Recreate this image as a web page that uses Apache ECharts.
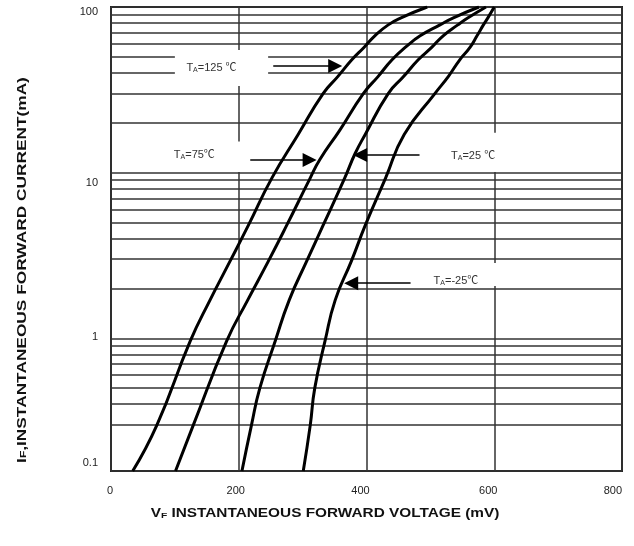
<!DOCTYPE html>
<html>
<head>
<meta charset="utf-8">
<script src="https://cdn.jsdelivr.net/npm/echarts@6/dist/echarts.min.js"></script>
<style>
  html, body { margin: 0; padding: 0; background: #fff; }
  #chart { width: 634px; height: 546px; }
</style>
</head>
<body>
<div id="chart"></div>
<script>
// Forward current (mA, log scale) against forward voltage (mV), one curve per ambient temperature.
const temperatureLabels = ['T{sub|A}=125 ℃', 'T{sub|A}=75℃', 'T{sub|A}=25 ℃', 'T{sub|A}=-25℃'];

// [voltage mV, current mA]
const curve125 = [[34, 0.158], [72, 0.30], [124, 0.96], [155, 1.7], [186, 2.9], [215, 4.8], [252, 9.3], [293, 17], [332, 30], [355, 38], [377, 48], [396, 57], [413, 67], [434, 78], [454, 86], [495, 100]];
const curve75 = [[101, 0.158], [129, 0.30], [181, 0.96], [214, 1.7], [246, 2.9], [275, 4.8], [312, 9.3], [327, 12], [358, 18], [395, 30], [418, 38], [440, 48], [463, 58], [484, 67], [515, 78], [536, 86], [576, 100]];
const curve25 = [[205, 0.158], [220, 0.30], [233, 0.50], [257, 0.96], [279, 1.7], [306, 2.9], [332, 4.8], [366, 9.3], [382, 13], [398, 17], [434, 30], [458, 38], [481, 48], [502, 57], [520, 67], [543, 78], [559, 86], [587, 100]];
const curveMinus25 = [[301, 0.158], [312, 0.30], [319, 0.50], [335, 0.96], [351, 1.7], [376, 2.9], [398, 4.8], [430, 9.3], [459, 17], [507, 30], [528, 38], [546, 48], [562, 57], [573, 67], [583, 78], [590, 86], [600, 100]];

// Axis ranges and tick labels
const voltageRange = [0, 800];
const voltageStep = 200;
const voltageTickLabels = ['0', '200', '400', '600', '800'];
const currentRange = [0.158, 100];
const currentTickLabels = ['0.1', '1', '10', '100'];
// Intermediate horizontal rules inside each decade
const currentGridValues = [0.3, 0.4, 0.5, 0.6, 0.7, 0.8, 0.9, 2, 3, 4, 5, 6, 7, 8, 9, 20, 30, 40, 50, 60, 70, 80, 90];

// Annotation layout: white label panel (two corners), label nudge, arrow from -> to
const annotationLayout = [
  { panel: [[100, 33.4], [246, 55]], nudge: [-10, -1], arrow: [[254, 44.1], [351, 44.1]] },
  { panel: [[77, 10.1], [209, 15.4]], nudge: [-8, -3], arrow: [[218, 11.9], [311, 11.9]] },
  { panel: [[515, 10.1], [625, 17.4]], nudge: [-2, 2], arrow: [[483, 12.8], [390, 12.8]] },
  { panel: [[484, 2.07], [640, 2.85]], nudge: [-14, 5], arrow: [[469, 2.15], [376, 2.15]] }
];

const FONT = "'Liberation Sans', Arial, sans-serif";
const LABEL_FONT = "'Liberation Sans', 'Noto Sans CJK SC', sans-serif";
const RULE = '#333';
const TEXT = '#222';

const curveSeries = [curve125, curve75, curve25, curveMinus25].map((points, i) => ({
  type: 'line',
  name: temperatureLabels[i],
  data: points,
  symbol: 'none',
  smooth: 0.5,
  silent: true,
  z: 5,
  lineStyle: { color: '#000', width: 3 }
}));

// small per-label nudges so tick text sits where the printed scale has it
const tickText = (pad) => ({ fontSize: 11, fontFamily: FONT, color: TEXT, padding: pad });
const yTickRich = {
  t0: tickText([0, 0, 16, 0]),
  t1: tickText([0, 0, 2, 0]),
  t2: tickText([20, 0, 0, 0]),
  t3: tickText([10, 0, 0, 0])
};
const xTickRich = {
  t0: tickText([0, 2, 0, 0]),
  t1: tickText([0, 6, 0, 0]),
  t2: tickText([0, 12, 0, 0]),
  t3: tickText([0, 12, 0, 0]),
  t4: tickText([0, 0, 0, 0])
};

const annotationRich = {
  main: { fontSize: 11, fontFamily: LABEL_FONT, color: '#333', lineHeight: 14, verticalAlign: 'bottom' },
  sub: { fontSize: 7, fontFamily: LABEL_FONT, color: '#333', lineHeight: 14, verticalAlign: 'bottom' }
};

const titleRich = (size) => ({
  b: { fontSize: size, fontWeight: 'bold', fontFamily: FONT, fill: '#111', color: '#111', lineHeight: size + 2, verticalAlign: 'bottom' },
  s: { fontSize: Math.round(size * 0.68), fontWeight: 'bold', fontFamily: FONT, fill: '#111', color: '#111', lineHeight: size + 2, verticalAlign: 'bottom' }
});

const option = {
  animation: false,
  backgroundColor: '#fff',
  grid: {
    left: 111, right: 12, top: 7, bottom: 75,
    show: true, borderColor: '#222', borderWidth: 2, backgroundColor: 'transparent'
  },
  xAxis: {
    type: 'value',
    min: voltageRange[0], max: voltageRange[1], interval: voltageStep,
    axisLine: { show: false },
    axisTick: { show: false },
    splitLine: { show: true, lineStyle: { color: RULE, width: 1.5 } },
    axisLabel: {
      margin: 14, color: TEXT, fontSize: 11, fontFamily: FONT, alignMaxLabel: 'right',
      formatter: (value, index) => '{t' + index + '|' + voltageTickLabels[index] + '}',
      rich: xTickRich
    }
  },
  yAxis: {
    type: 'log', logBase: 10,
    min: currentRange[0], max: currentRange[1],
    axisLine: { show: false },
    axisTick: { show: false },
    splitLine: { show: true, lineStyle: { color: RULE, width: 1.5 } },
    axisLabel: {
      margin: 13, color: TEXT, fontSize: 11, fontFamily: FONT,
      formatter: (value, index) => '{t' + index + '|' + currentTickLabels[index] + '}',
      rich: yTickRich
    }
  },
  graphic: [
    {
      type: 'text', x: 325, y: 513, scaleX: 1.28, silent: true,
      style: {
        text: '{b|V}{s|F}{b| INSTANTANEOUS FORWARD VOLTAGE (mV)}',
        rich: titleRich(12), align: 'center', verticalAlign: 'middle'
      }
    },
    {
      type: 'text', x: 21, y: 270, rotation: Math.PI / 2, scaleX: 1.33, silent: true,
      style: {
        text: '{b|I}{s|F}{b|,INSTANTANEOUS FORWARD CURRENT(mA)}',
        rich: titleRich(13), align: 'center', verticalAlign: 'middle'
      }
    }
  ],
  series: [
    {
      // intermediate decade rules
      type: 'line', name: 'rules', data: [], silent: true, z: 1,
      markLine: {
        silent: true, z: 1, symbol: 'none', animation: false,
        label: { show: false },
        lineStyle: { color: RULE, width: 1.5, type: 'solid' },
        data: currentGridValues.map(v => ({ yAxis: v }))
      }
    },
    {
      // temperature captions and pointer arrows
      type: 'line', name: 'captions', data: [], silent: true, z: 3,
      markArea: {
        silent: true, z: 3, animation: false,
        itemStyle: { color: '#fff', borderWidth: 0 },
        data: annotationLayout.map((a, i) => [
          {
            coord: a.panel[0],
            label: {
              show: true, position: 'inside', offset: a.nudge,
              formatter: () => temperatureLabels[i].replace(/^T/, '{main|T}').replace(/=(.*)$/, '{main|=$1}'),
              rich: annotationRich
            }
          },
          { coord: a.panel[1] }
        ])
      },
      markLine: {
        silent: true, z: 6, animation: false,
        symbol: ['none', 'triangle'], symbolSize: 14,
        label: { show: false },
        lineStyle: { color: '#000', width: 1.5, type: 'solid' },
        data: annotationLayout.map(a => [{ coord: a.arrow[0] }, { coord: a.arrow[1] }])
      }
    },
    ...curveSeries
  ]
};

const chart = echarts.init(document.getElementById('chart'), null, { renderer: 'canvas' });
chart.setOption(option);
</script>
</body>
</html>
